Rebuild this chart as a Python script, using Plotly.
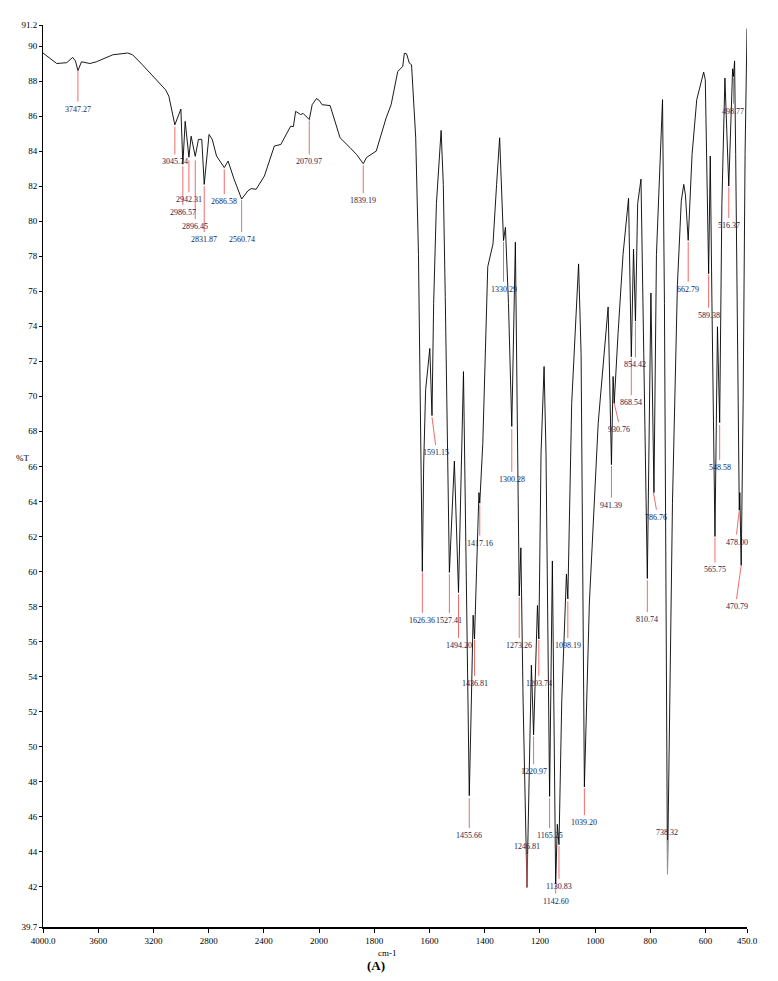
import plotly.graph_objects as go

# IR spectrum (A): wavenumber (cm-1) and transmittance (%T)
wavenumber = [4000, 3900, 3828, 3785, 3765, 3747, 3721, 3661, 3613, 3494, 3387, 3351, 3280, 3112, 3088,
              3045, 3001, 2987, 2970, 2943, 2927, 2897, 2874, 2850, 2832, 2797, 2774, 2743, 2687, 2659,
              2616, 2561, 2516, 2492, 2456, 2396, 2324, 2277, 2206, 2186, 2170, 2134, 2115, 2071, 2050,
              2019, 2000,
              1989, 1960, 1924, 1888, 1864, 1840, 1828, 1793, 1757, 1739, 1715, 1697, 1691, 1683, 1673,
              1665, 1650, 1640, 1634, 1626, 1621, 1614, 1599, 1591, 1585, 1575, 1558, 1550, 1543, 1528,
              1510, 1495, 1477, 1468, 1456, 1450, 1442, 1437, 1429, 1421, 1418, 1407, 1389, 1370, 1357,
              1346, 1332, 1325, 1314, 1302, 1289, 1282, 1275, 1269, 1261, 1247, 1231, 1223, 1209, 1204,
              1196, 1185, 1178, 1165, 1155, 1143, 1137, 1131, 1121, 1104, 1099, 1085, 1060, 1051, 1039,
              1021, 989, 953, 946, 941, 935, 931, 917, 899, 879, 869, 861, 854, 846, 834, 824, 811, 798,
              787, 778, 756, 749, 738, 720, 702, 688, 679, 673, 663, 649, 632, 607, 601, 589, 583, 577,
              566, 557, 549, 541, 530, 516, 502, 499, 495, 491, 478, 476, 471, 464, 457, 450]
transmittance = [89.6, 89.0, 89.05, 89.35, 89.15, 88.6, 89.1, 89.0, 89.1, 89.5, 89.6, 89.5, 88.93, 87.5, 87.13,
                 85.5, 86.4, 83.25, 85.7, 83.65, 84.85, 83.7, 84.67, 84.67, 82.1, 84.95, 84.67, 83.72, 83.06, 83.43,
                 82.4, 81.26, 81.73, 81.86, 81.82, 82.58, 84.29, 84.38, 85.42, 85.4, 86.27, 86.09, 86.15, 85.8, 86.65,
                 87.0, 86.9,
                 86.65, 86.6, 84.76, 84.2, 83.8, 83.28, 83.64, 84.0, 85.9, 86.65, 88.55, 88.83, 89.59, 89.55, 89.02,
                 88.93, 84.76, 78.1, 69.6, 60.0, 66.2, 70.37, 72.73, 68.9, 75.3, 81.0, 85.18, 82.1, 75.7, 59.95,
                 66.3, 58.8, 71.41, 61.1, 47.2, 51.4, 57.5, 56.14, 60.5, 64.5, 63.9, 67.3, 77.4, 78.7, 82.1,
                 84.76, 78.89, 79.65, 75.3, 68.28, 78.8, 69.6, 58.6, 61.35, 52.6, 41.96, 54.65, 50.67, 58.06, 56.14,
                 66.77, 71.7, 66.77, 47.16, 60.6, 42.15, 45.56, 44.4, 52.6, 59.85, 58.43, 69.6, 77.56, 72.45, 47.7,
                 58.2, 68.47, 75.1, 70.75, 66.1, 71.13, 69.6, 73.6, 78.1, 81.31, 72.26, 78.4, 74.3, 81.0, 82.4, 72.45, 59.6, 75.9,
                 64.5, 78.1, 86.94, 75.3, 42.72, 63.9, 76.4, 81.16, 82.1, 81.5, 78.9, 83.8, 86.94, 88.51, 88.07, 77.0, 83.72, 75.3,
                 62.0, 73.97, 68.5, 81.0, 88.17, 82.0, 88.7, 88.26, 89.15, 83.8, 63.5, 64.5, 60.35, 69.6, 83.8, 91.0]

peak_labels = ["3747.27", "3045.74", "2986.57", "2942.31", "2896.45", "2831.87", "2686.58", "2560.74",
               "2070.97", "1839.19", "1626.36", "1591.15", "1527.41", "1494.20", "1455.66", "1436.81",
               "1417.16", "1330.29", "1300.28", "1273.26", "1246.81", "1220.97", "1203.74", "1165.25",
               "1130.83", "1142.60", "1098.19", "1039.20", "941.39", "930.76", "868.54", "854.42",
               "810.74", "786.76", "738.32", "662.79", "589.38", "565.75", "548.58", "516.37",
               "498.77", "478.00", "470.79"]

x_ticks = [4000, 3600, 3200, 2800, 2400, 2000, 1800, 1600, 1400, 1200, 1000, 800, 600, 450]
x_tick_text = ["4000.0", "3600", "3200", "2800", "2400", "2000", "1800", "1600", "1400", "1200",
               "1000", "800", "600", "450.0"]
y_ticks = [39.7] + list(range(42, 91, 2)) + [91.2]
y_tick_text = ["39.7"] + [str(v) for v in range(42, 91, 2)] + ["91.2"]

# marker line placement for each label: (wn top, %T top, wn bottom, %T bottom)
label_lines = [
    (3747, 88.59, 3747, 86.83), (3045, 85.4, 3045, 83.81), (2987, 83.13, 2987, 80.92),
    (2943, 83.47, 2943, 81.65), (2897, 83.47, 2897, 80.12), (2832, 81.99, 2832, 79.38),
    (2687, 82.96, 2687, 81.54), (2561, 81.2, 2561, 79.38), (2071, 85.75, 2071, 83.81),
    (1840, 83.19, 1840, 81.6), (1626, 59.95, 1626, 57.62), (1591, 68.81, 1578, 67.22),
    (1528, 59.84, 1528, 57.62), (1495, 58.7, 1495, 56.2), (1456, 47.05, 1456, 45.35),
    (1437, 56.09, 1437, 54.04), (1418, 63.81, 1418, 62.05), (1332, 78.81, 1332, 76.54),
    (1302, 68.13, 1302, 65.69), (1275, 58.53, 1275, 56.2), (1247, 41.99, 1247, 43.87),
    (1223, 50.58, 1223, 48.99), (1204, 56.09, 1204, 54.04), (1165, 47.05, 1165, 45.35),
    (1131, 44.33, 1131, 42.45), (1143, 42.11, 1143, 41.6), (1099, 58.3, 1099, 56.2),
    (1039, 47.62, 1039, 46.09), (941, 66.03, 941, 64.21), (931, 69.61, 915, 68.53),
    (869, 72.17, 869, 70.06), (854, 74.27, 854, 72.22), (811, 59.5, 811, 57.68),
    (789, 64.5, 778, 63.53), (738, 42.73, 738, 44.67), (663, 78.81, 663, 76.54),
    (589, 76.94, 589, 75.06), (566, 61.94, 566, 60.52), (549, 68.36, 549, 66.37),
    (516, 81.94, 516, 80.18), (499, 88.19, 499, 86.71), (478, 63.47, 488, 62.11),
    (471, 60.35, 488, 58.42),
]


def pos(w):
    # the instrument plot is expanded 2x below 2000 cm-1
    return 4000 - w if w >= 2000 else 2000 + 2 * (2000 - w)


FONT = "Liberation Serif, Times New Roman, serif"

fig = go.Figure()
fig.add_trace(go.Scatter(x=[pos(w) for w in wavenumber], y=transmittance, mode="lines",
                         line=dict(color="black", width=0.9), showlegend=False, hoverinfo="skip"))

lx, ly = [], []
for (w1, t1, w2, t2) in label_lines:
    lx += [pos(w1), pos(w2), None]
    ly += [t1, t2, None]
fig.add_trace(go.Scatter(x=lx, y=ly, mode="lines", line=dict(color="#f26b6b", width=1),
                         showlegend=False, hoverinfo="skip"))

for text, (w1, t1, w2, t2) in zip(peak_labels, label_lines):
    fig.add_annotation(x=pos(w2), y=t2, text=text, showarrow=False,
                       yanchor="top" if t2 < t1 else "bottom", yshift=-1 if t2 < t1 else 1,
                       font=dict(family=FONT, size=8, color="#1d2250"))

fig.add_annotation(x=-0.0295, y=0.52, xref="paper", yref="paper", text="%T", showarrow=False,
                   xanchor="center", yanchor="middle", font=dict(family=FONT, size=9, color="black"))
fig.add_annotation(x=0.4895, y=-0.0285, xref="paper", yref="paper", text="cm-1", showarrow=False,
                   xanchor="center", yanchor="middle", font=dict(family=FONT, size=9, color="black"))
fig.add_annotation(x=0.4727, y=-0.043, xref="paper", yref="paper", text="<b>(A)</b>", showarrow=False,
                   xanchor="center", yanchor="middle", font=dict(family=FONT, size=13, color="black"))

# page body has an 8px margin, so the figure is sized to fit the window without scrolling
fig.update_layout(
    width=762, height=965,
    margin=dict(l=35, r=14, t=12, b=46),
    plot_bgcolor="white", paper_bgcolor="white",
    xaxis=dict(range=[pos(4000), pos(450)], tickvals=[pos(w) for w in x_ticks], ticktext=x_tick_text,
               showgrid=False, zeroline=False, showline=True, linecolor="black", linewidth=1.5,
               ticks="outside", ticklen=4, tickcolor="black",
               tickfont=dict(family=FONT, size=9, color="black")),
    yaxis=dict(range=[39.7, 91.2], tickvals=y_ticks, ticktext=y_tick_text,
               showgrid=False, zeroline=False, showline=True, linecolor="black", linewidth=1,
               ticks="outside", ticklen=3, tickcolor="black",
               tickfont=dict(family=FONT, size=9, color="black")),
)

fig.write_html("out.html")
